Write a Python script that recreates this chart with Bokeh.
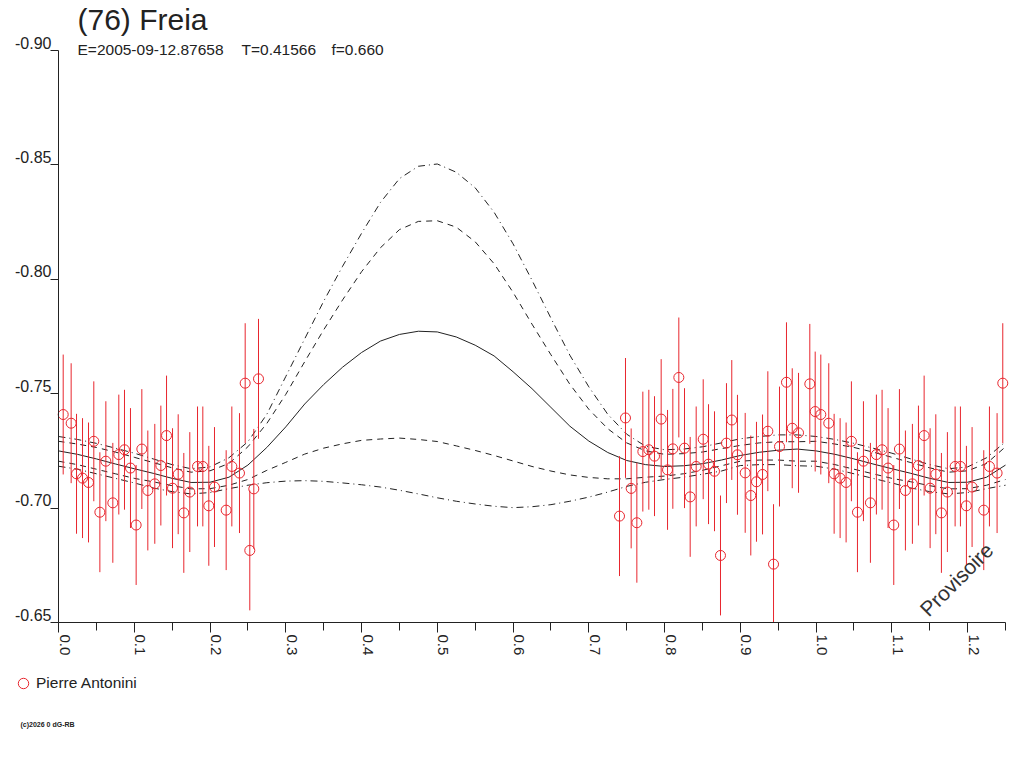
import math
from bokeh.plotting import figure
from bokeh.models import (Range1d, FixedTicker, Label, LabelSet, Legend,
                          LegendItem, ColumnDataSource)
from bokeh.core.properties import value
from bokeh.embed import file_html
from bokeh.resources import INLINE

# ---------------- data ----------------
TITLE = "(76) Freia"
SUB_EPOCH = "E=2005-09-12.87658"
SUB_PERIOD = "T=0.41566"
SUB_F = "f=0.660"
OBSERVER = "Pierre Antonini"
WATERMARK = "Provisoire"
COPYRIGHT = "(c)2026 0 dG-RB"

X_TICKS = [0.0, 0.1, 0.2, 0.3, 0.4, 0.5, 0.6, 0.7, 0.8, 0.9, 1.0, 1.1, 1.2]
X_TICK_LABELS = ["0.0", "0.1", "0.2", "0.3", "0.4", "0.5", "0.6", "0.7", "0.8",
                 "0.9", "1.0", "1.1", "1.2"]
X_MINOR = [0.05, 0.15, 0.25, 0.35, 0.45, 0.55, 0.65, 0.75, 0.85, 0.95, 1.05,
           1.15, 1.25]
Y_TICKS = [-0.90, -0.85, -0.80, -0.75, -0.70, -0.65]
Y_TICK_LABELS = ["-0.90", "-0.85", "-0.80", "-0.75", "-0.70", "-0.65"]

obs_phase = [0.0062, 0.0167, 0.0238, 0.0317, 0.0396, 0.0466, 0.0546, 0.0625,
             0.0717, 0.0796, 0.0871, 0.0950, 0.1025, 0.1100, 0.1179, 0.1271,
             0.1351, 0.1426, 0.1505, 0.1580, 0.1654, 0.1733, 0.1835, 0.1905,
             0.1984, 0.2059, 0.2213, 0.2288, 0.2389, 0.2464, 0.2525, 0.2578,
             0.2640,
             0.7405, 0.7484, 0.7559, 0.7634, 0.7713, 0.7792, 0.7867, 0.7955,
             0.8039, 0.8109, 0.8188, 0.8263, 0.8338, 0.8417, 0.8510, 0.8580,
             0.8659, 0.8738, 0.8817, 0.8887, 0.8962, 0.9064, 0.9138, 0.9213,
             0.9293, 0.9363, 0.9438, 0.9517, 0.9609, 0.9685, 0.9768, 0.9917,
             0.9988]
obs_mag = [-0.7409, -0.7371, -0.7150, -0.7131, -0.7112, -0.7292, -0.6982, -0.7205,
           -0.7023, -0.7234, -0.7255, -0.7175, -0.6926, -0.7258, -0.7077, -0.7106,
           -0.7186, -0.7317, -0.7087, -0.7148, -0.6979, -0.7070, -0.7182, -0.7182,
           -0.7010, -0.7092, -0.6991, -0.7182, -0.7153, -0.7546, -0.6815, -0.7084,
           -0.7565,
           -0.6965, -0.7394, -0.7086, -0.6936, -0.7247, -0.7255, -0.7227, -0.7389,
           -0.7167, -0.7259, -0.7571, -0.7262, -0.7049, -0.7182, -0.7301, -0.7192,
           -0.7161, -0.6793, -0.7284, -0.7385, -0.7233, -0.7154, -0.7055, -0.7115,
           -0.7147, -0.7336, -0.6755, -0.7269, -0.7550, -0.7349, -0.7329, -0.7543,
           -0.7422]
OBS_ERR = 0.0262

# fitted curve and its envelopes, read every 0.025 in phase from 0 to 1
curve_phase = [round(i * 0.025, 3) for i in range(41)]
fit_mag = [-0.7250, -0.7235, -0.7215, -0.7193, -0.7172, -0.7152, -0.7130, -0.7112,
           -0.7113, -0.7135, -0.7188, -0.7265, -0.7355, -0.7455, -0.7540, -0.7616,
           -0.7680, -0.7730, -0.7759, -0.7773, -0.7770, -0.7748, -0.7712, -0.7665,
           -0.7596, -0.7522, -0.7440, -0.7358, -0.7293, -0.7243, -0.7208, -0.7190,
           -0.7182, -0.7185, -0.7194, -0.7210, -0.7230, -0.7244, -0.7253, -0.7258,
           -0.7250]
upper_dashdot = [-0.7313, -0.7300, -0.7283, -0.7262, -0.7240, -0.7215, -0.7190, -0.7172,
                 -0.7180, -0.7220, -0.7290, -0.7410, -0.7575, -0.7740, -0.7904, -0.8057,
                 -0.8201, -0.8336, -0.8440, -0.8494, -0.8504, -0.8468, -0.8400, -0.8293,
                 -0.8155, -0.7996, -0.7830, -0.7668, -0.7530, -0.7410, -0.7323, -0.7270,
                 -0.7255, -0.7258, -0.7268, -0.7285, -0.7303, -0.7313, -0.7320, -0.7320,
                 -0.7313]
upper_dashed = [-0.7292, -0.7280, -0.7265, -0.7245, -0.7222, -0.7199, -0.7176, -0.7157,
                -0.7163, -0.7195, -0.7268, -0.7370, -0.7497, -0.7640, -0.7779, -0.7910,
                -0.8033, -0.8138, -0.8217, -0.8253, -0.8256, -0.8228, -0.8164, -0.8068,
                -0.7943, -0.7804, -0.7670, -0.7541, -0.7432, -0.7347, -0.7285, -0.7250,
                -0.7235, -0.7238, -0.7245, -0.7260, -0.7274, -0.7285, -0.7290, -0.7290,
                -0.7292]
lower_dashed = [-0.7205, -0.7190, -0.7170, -0.7150, -0.7130, -0.7115, -0.7098, -0.7084,
                -0.7085, -0.7100, -0.7125, -0.7165, -0.7200, -0.7236, -0.7262, -0.7281,
                -0.7296, -0.7302, -0.7306, -0.7300, -0.7291, -0.7272, -0.7252, -0.7230,
                -0.7206, -0.7182, -0.7162, -0.7145, -0.7134, -0.7128, -0.7128, -0.7135,
                -0.7140, -0.7150, -0.7165, -0.7185, -0.7205, -0.7210, -0.7210, -0.7205,
                -0.7205]
lower_dashdot = [-0.7183, -0.7170, -0.7150, -0.7130, -0.7110, -0.7088, -0.7072, -0.7062,
                 -0.7068, -0.7085, -0.7100, -0.7111, -0.7118, -0.7120, -0.7117, -0.7110,
                 -0.7102, -0.7092, -0.7078, -0.7062, -0.7045, -0.7030, -0.7018, -0.7008,
                 -0.7002, -0.7006, -0.7015, -0.7030, -0.7048, -0.7070, -0.7095, -0.7113,
                 -0.7125, -0.7135, -0.7148, -0.7162, -0.7186, -0.7190, -0.7190, -0.7185,
                 -0.7183]

X_MAX = 1.25
Y_BRIGHT, Y_FAINT = -0.90, -0.65

# ---------------- styling / layout ----------------
FONT = "Liberation Sans"
INK = "#222222"
RED = "#e8262e"
CANVAS_W, CANVAS_H = 1016, 760
AX_LEFT_PX, AX_TOP_PX = 58, 50          # pixel of phase 0 / of mag -0.90
PXX = 947 / X_MAX                       # pixels per phase unit
PXY = 572 / (Y_FAINT - Y_BRIGHT)        # pixels per magnitude unit


def ph(px):   # canvas pixel -> phase
    return (px - AX_LEFT_PX) / PXX


def mg(py):   # canvas pixel -> magnitude
    return Y_BRIGHT + (py - AX_TOP_PX) / PXY


p = figure(width=CANVAS_W, height=CANVAS_H,
           x_range=Range1d(ph(0), ph(CANVAS_W)),
           y_range=Range1d(mg(CANVAS_H), mg(0)),
           output_backend="svg", toolbar_location=None, min_border=0,
           background_fill_color="white", border_fill_color="white")
p.outline_line_color = None
p.xgrid.visible = False
p.ygrid.visible = False


def wrap(xs, ys):
    """repeat the phased data over phase 1.0 - 1.25"""
    ox, oy = list(xs), list(ys)
    for x, y in zip(xs, ys):
        if x > 0 and x + 1 <= X_MAX + 1e-9:
            ox.append(x + 1)
            oy.append(y)
    return ox, oy


for vals, dash in [(upper_dashdot, "7 4 1 4"), (upper_dashed, "6 5"),
                   (fit_mag, "solid"), (lower_dashed, "6 5"),
                   (lower_dashdot, "7 4 1 4")]:
    cx, cy = wrap(curve_phase, vals)
    p.line(cx, cy, line_color=INK, line_width=1, line_dash=dash)

ox, oy = wrap(obs_phase, obs_mag)
src = ColumnDataSource(dict(x=ox, y=oy,
                            lo=[max(v - OBS_ERR, Y_BRIGHT) for v in oy],
                            hi=[min(v + OBS_ERR, Y_FAINT) for v in oy]))
p.segment(x0="x", y0="lo", x1="x", y1="hi", source=src, line_color=RED,
          line_width=1)
pts = p.scatter("x", "y", source=src, marker="circle", size=10,
                fill_color=None, line_color=RED, line_width=1)

# axes (drawn at fixed positions, tick labels placed separately)
xa = p.xaxis[0]
xa.fixed_location = Y_FAINT
xa.bounds = (0, X_MAX)
xa.ticker = FixedTicker(ticks=X_TICKS, minor_ticks=X_MINOR)
xa.major_label_overrides = {t: "" for t in X_TICKS}
xa.major_tick_in, xa.major_tick_out = 0, 10
xa.minor_tick_in, xa.minor_tick_out = 0, 8

ya = p.yaxis[0]
ya.fixed_location = 0
ya.bounds = (Y_BRIGHT, Y_FAINT)
ya.ticker = FixedTicker(ticks=Y_TICKS)
ya.major_label_overrides = {t: "" for t in Y_TICKS}
ya.major_tick_in, ya.major_tick_out = 0, 8
for a in (xa, ya):
    a.axis_line_color = INK
    a.major_tick_line_color = INK
xa.minor_tick_line_color = INK
ya.minor_tick_line_color = None

xlab = ColumnDataSource(dict(x=X_TICKS, text=X_TICK_LABELS,
                             y=[mg(634)] * len(X_TICKS)))
p.add_layout(LabelSet(x="x", y="y", text="text", source=xlab,
                      angle=-math.pi / 2, x_offset=1, text_align="left",
                      text_baseline="alphabetic", text_font=value(FONT),
                      text_font_size=value("15px"), text_color=INK))
ylab = ColumnDataSource(dict(y=[t - 2 / PXY for t in Y_TICKS], text=Y_TICK_LABELS,
                             x=[0] * len(Y_TICKS)))
p.add_layout(LabelSet(x="x", y="y", text="text", source=ylab, x_offset=-7,
                      text_align="right", text_baseline="alphabetic",
                      text_font=value(FONT), text_font_size=value("16px"),
                      text_color=INK))


# texts (anchored at the vertical middle of their line)
def label(px, py, text, size, **kw):
    opts = dict(text_font=FONT, text_color=INK, text_baseline="middle",
                text_align="left")
    opts.update(kw)
    p.add_layout(Label(x=ph(px), y=mg(py), text=text, text_font_size=size, **opts))


label(77, 18.5, TITLE, "30px")
label(77, 48.5, SUB_EPOCH, "15.5px")
label(241, 48.5, SUB_PERIOD, "15.5px")
label(331, 48.5, SUB_F, "15.5px")
label(923, 612, WATERMARK, "21px", angle=math.pi / 4, text_color="#333333")
label(20, 724, COPYRIGHT, "7px", text_font_style="bold")

legend = Legend(items=[LegendItem(label=OBSERVER, renderers=[pts])],
                location=(10, CANVAS_H - 696), padding=0, margin=0, spacing=0,
                glyph_width=26, glyph_height=26, label_standoff=0,
                label_text_font=FONT, label_text_font_size="15.5px",
                label_text_color=INK, border_line_color=None,
                background_fill_alpha=0)
p.add_layout(legend, "center")

with open("out.html", "w") as f:
    f.write(file_html(p, INLINE))
